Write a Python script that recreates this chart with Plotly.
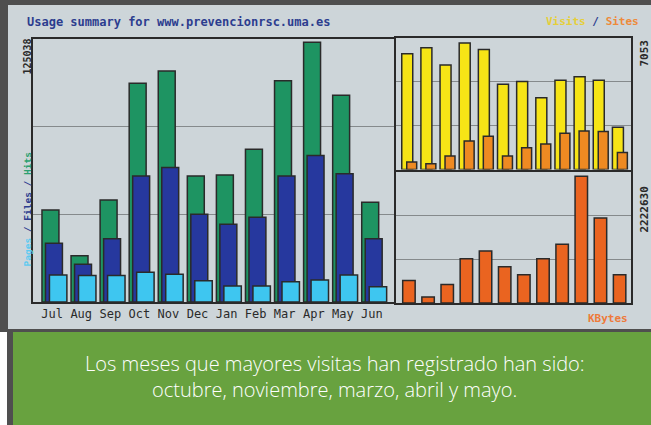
import plotly.graph_objects as go

months = ["Jul", "Aug", "Sep", "Oct", "Nov", "Dec", "Jan", "Feb", "Mar", "Apr", "May", "Jun"]
hits = [44300, 22300, 49100, 105300, 111200, 60700, 61200, 73600, 106500, 125038, 99600, 48000]
files = [28300, 18200, 30500, 60700, 64700, 42200, 37400, 40800, 60700, 70500, 61700, 30500]
pages = [13000, 12700, 12700, 14300, 13400, 10200, 7700, 7700, 9800, 10600, 13000, 7400]
visits = [6448, 6787, 5826, 7053, 6691, 4751, 4904, 3999, 4977, 5164, 4977, 2359]
sites = [413, 322, 752, 1584, 1849, 752, 1205, 1414, 2019, 2149, 2110, 944]
kbytes = [394300, 106000, 323600, 778000, 914000, 636600, 495000, 778000, 1031000, 2222630, 1490600, 495000]

title_text = "Usage summary for www.prevencionrsc.uma.es"
caption1 = "Los meses que mayores visitas han registrado han sido:"
caption2 = "octubre, noviembre, marzo, abril y mayo."

W, H = 651, 425
def px(x):
    return x / W
def py(y):
    return 1 - y / H

idx = list(range(len(months)))
C_HITS, C_FILES, C_PAGES = "#1e9462", "#26389e", "#3ec6f0"
C_VIS, C_SITES, C_KB = "#f6e416", "#ee8a22", "#ea6420"
EDGE = dict(color="#2a2a2a", width=1.5)

fig = go.Figure()
fig.add_bar(x=idx, y=hits, offset=0.0, width=0.583, marker=dict(color=C_HITS, line=EDGE), xaxis="x", yaxis="y")
fig.add_bar(x=idx, y=files, offset=0.12, width=0.583, marker=dict(color=C_FILES, line=EDGE), xaxis="x", yaxis="y")
fig.add_bar(x=idx, y=pages, offset=0.257, width=0.6, marker=dict(color=C_PAGES, line=EDGE), xaxis="x", yaxis="y")
fig.add_bar(x=idx, y=visits, offset=0.0, width=0.574, marker=dict(color=C_VIS, line=EDGE), xaxis="x2", yaxis="y2")
fig.add_bar(x=idx, y=sites, offset=0.26, width=0.52, marker=dict(color=C_SITES, line=EDGE), xaxis="x2", yaxis="y2")
fig.add_bar(x=idx, y=kbytes, offset=0.05, width=0.65, marker=dict(color=C_KB, line=EDGE), xaxis="x3", yaxis="y3")

def yax(vmax, pad, dom, anchor):
    top = vmax * pad
    return dict(domain=dom, range=[0, top], tickvals=[top / 3, 2 * top / 3], showticklabels=False,
                showgrid=True, gridcolor="#858a8c", gridwidth=1, zeroline=False, anchor=anchor,
                showline=True, mirror=True, linecolor="#2a2a2a", linewidth=2, ticks="", fixedrange=True)

def xax(dom, rng, anchor):
    return dict(domain=dom, range=rng, showticklabels=False, ticks="", showgrid=False, zeroline=False,
                showline=True, mirror=True, linecolor="#2a2a2a", linewidth=2, anchor=anchor, fixedrange=True)

mono = "DejaVu Sans Mono"
x1 = xax([px(33), px(394)], [-0.309, 12.11], "y")
x1.update(tickvals=[i + 0.35 for i in idx], ticktext=months, showticklabels=True,
          tickfont=dict(family=mono, size=12, color="#2a2a2a"))
fig.update_layout(
    width=W, height=H, margin=dict(l=0, r=0, t=0, b=0),
    paper_bgcolor="white", plot_bgcolor="rgba(0,0,0,0)",
    showlegend=False, barmode="overlay", hovermode=False,
    xaxis=x1,
    yaxis=yax(max(hits), 263 / 259.7, [py(302), py(39)], "x"),
    xaxis2=xax([px(396), px(631)], [-0.3, 11.97], "y2"),
    yaxis2=yax(max(visits), 130 / 124.7, [py(169.5), py(37.5)], "x2"),
    xaxis3=xax([px(396), px(631)], [-0.3, 11.97], "y3"),
    yaxis3=yax(max(kbytes), 130 / 125.7, [py(303), py(172)], "x3"),
)

shapes = [
    dict(type="rect", xref="paper", yref="paper", x0=0, x1=1, y0=py(332), y1=1, fillcolor="#4f4f4f", line_width=0, layer="below"),
    dict(type="rect", xref="paper", yref="paper", x0=px(8), x1=1, y0=py(329), y1=py(5), fillcolor="#cdd5d9", line_width=0, layer="below"),
    dict(type="rect", xref="paper", yref="paper", x0=px(7), x1=px(13), y0=0, y1=py(332), fillcolor="#4f4f4f", line_width=0, layer="below"),
    dict(type="rect", xref="paper", yref="paper", x0=px(13), x1=1, y0=0, y1=py(332), fillcolor="#68a23f", line_width=0, layer="below"),
]
fig.update_layout(shapes=shapes)

ann = [
    dict(text="<b>" + title_text + "</b>", x=px(25), y=py(22), xanchor="left", yanchor="middle",
         font=dict(family=mono, size=12, color="#2c3d8f")),
    dict(text="<b><span style='color:#e6cf3a'>Visits</span><span style='color:#2c3d8f'> / </span><span style='color:#ee8a3a'>Sites</span></b>",
         x=px(641), y=py(22), xanchor="right", yanchor="middle", font=dict(family=mono, size=11)),
    dict(text="<b>" + f"{max(hits)}" + "</b>", x=px(19), y=py(57), textangle=-90, xanchor="left", yanchor="middle",
         font=dict(family=mono, size=10, color="#2a2a2a")),
    dict(text="<b><span style='color:#5ccaf0'>Pages</span><span style='color:#2c3d8f'> / </span><span style='color:#2c3d8f'>Files</span><span style='color:#2c3d8f'> / </span><span style='color:#2aa070'>Hits</span></b>",
         x=px(19), y=py(210), textangle=-90, xanchor="left", yanchor="middle", font=dict(family=mono, size=9.5)),
    dict(text="<b>" + f"{max(visits)}" + "</b>", x=px(635), y=py(53), textangle=-90, xanchor="left", yanchor="middle",
         font=dict(family=mono, size=11, color="#2a2a2a")),
    dict(text="<b>" + f"{max(kbytes)}" + "</b>", x=px(635), y=py(210), textangle=-90, xanchor="left", yanchor="middle",
         font=dict(family=mono, size=11, color="#2a2a2a")),
    dict(text="<b>KBytes</b>", x=px(630), y=py(318), xanchor="right", yanchor="middle",
         font=dict(family=mono, size=11, color="#ee7a3a")),
    dict(text=caption1, x=px(335), y=py(363), xanchor="center", yanchor="middle",
         font=dict(family="Open Sans", size=20, color="white", weight=300)),
    dict(text=caption2, x=px(335), y=py(389), xanchor="center", yanchor="middle",
         font=dict(family="Open Sans", size=20, color="white", weight=300)),
]
for a in ann:
    a.update(xref="paper", yref="paper", showarrow=False)
fig.update_layout(annotations=ann)

fig.write_html("out.html", config={"displayModeBar": False, "staticPlot": True},
               post_script="document.body.style.margin='0';document.body.style.padding='0';")
